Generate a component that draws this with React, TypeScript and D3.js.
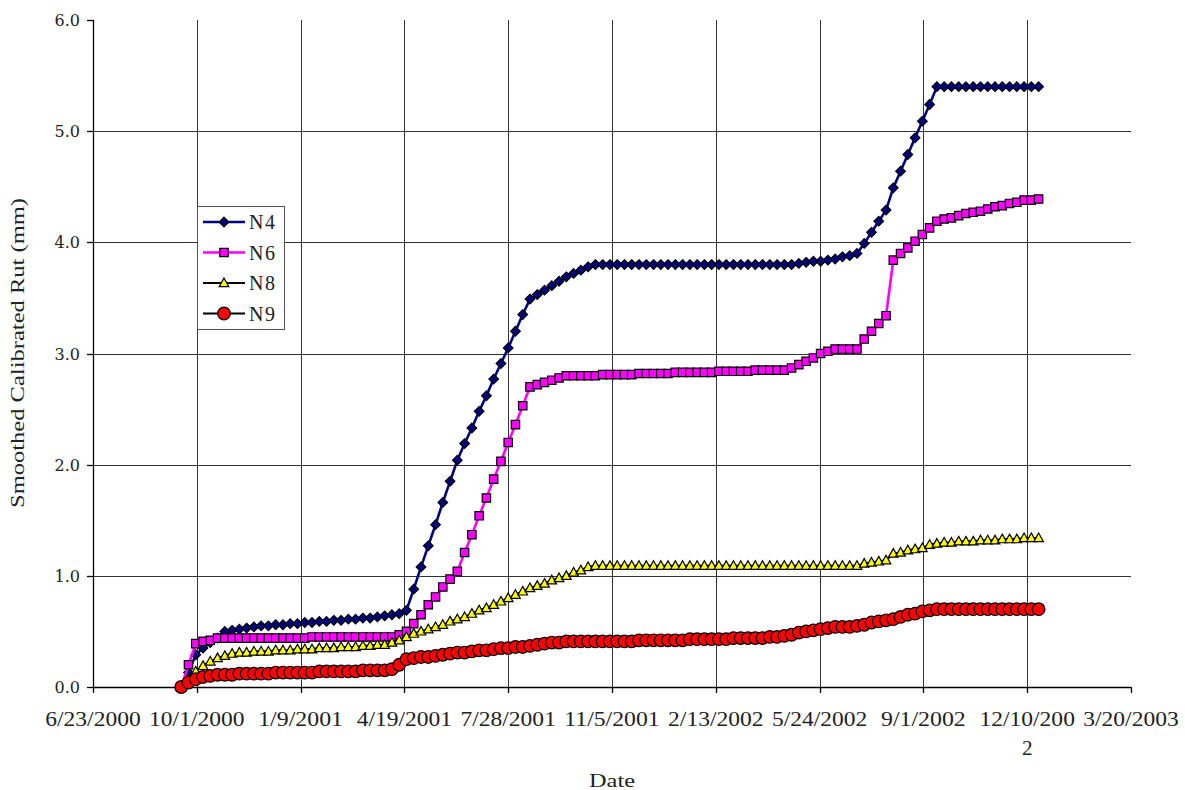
import { useEffect, useRef } from 'react';
import * as d3 from 'd3';

// weekly readings, first one on this date
const firstReading = '9/16/2000';
const readingStepDays = 7;

const xTickLabels = [
  '6/23/2000', '10/1/2000', '1/9/2001', '4/19/2001', '7/28/2001', '11/5/2001',
  '2/13/2002', '5/24/2002', '9/1/2002', '12/10/2002', '3/20/2003',
];
const yTicks = [0, 1, 2, 3, 4, 5, 6];

const n4 = [
  0.0, 0.13, 0.29, 0.35, 0.4, 0.44, 0.5, 0.51, 0.52, 0.53,
  0.54, 0.55, 0.55, 0.56, 0.56, 0.57, 0.57, 0.58, 0.58, 0.59,
  0.59, 0.6, 0.6, 0.61, 0.61, 0.62, 0.62, 0.63, 0.64, 0.65,
  0.66, 0.69, 0.88, 1.08, 1.27, 1.46, 1.66, 1.85, 2.04, 2.19,
  2.33, 2.48, 2.62, 2.77, 2.91, 3.05, 3.2, 3.35, 3.49, 3.53,
  3.57, 3.61, 3.65, 3.69, 3.72, 3.75, 3.78, 3.8, 3.8, 3.8,
  3.8, 3.8, 3.8, 3.8, 3.8, 3.8, 3.8, 3.8, 3.8, 3.8,
  3.8, 3.8, 3.8, 3.8, 3.8, 3.8, 3.8, 3.8, 3.8, 3.8,
  3.8, 3.8, 3.8, 3.8, 3.8, 3.81, 3.82, 3.83, 3.83, 3.84,
  3.85, 3.87, 3.88, 3.9, 3.99, 4.09, 4.19, 4.29, 4.49, 4.64,
  4.79, 4.94, 5.09, 5.24, 5.4, 5.4, 5.4, 5.4, 5.4, 5.4,
  5.4, 5.4, 5.4, 5.4, 5.4, 5.4, 5.4, 5.4, 5.4,
];

const n6 = [
  0.0, 0.2, 0.39, 0.41, 0.42, 0.44, 0.44, 0.44, 0.44, 0.44,
  0.44, 0.44, 0.44, 0.44, 0.44, 0.44, 0.44, 0.44, 0.45, 0.45,
  0.45, 0.45, 0.45, 0.45, 0.45, 0.45, 0.45, 0.45, 0.45, 0.45,
  0.47, 0.5, 0.57, 0.65, 0.74, 0.81, 0.9, 0.97, 1.04, 1.21,
  1.37, 1.54, 1.7, 1.87, 2.03, 2.2, 2.36, 2.53, 2.7, 2.72,
  2.74, 2.76, 2.78, 2.8, 2.8, 2.8, 2.8, 2.8, 2.81, 2.81,
  2.81, 2.81, 2.81, 2.82, 2.82, 2.82, 2.82, 2.82, 2.83, 2.83,
  2.83, 2.83, 2.83, 2.83, 2.84, 2.84, 2.84, 2.84, 2.84, 2.85,
  2.85, 2.85, 2.85, 2.85, 2.87, 2.9, 2.93, 2.96, 3.0, 3.02,
  3.04, 3.04, 3.04, 3.04, 3.13, 3.2, 3.27, 3.34, 3.84, 3.9,
  3.95, 4.01, 4.07, 4.13, 4.19, 4.21, 4.22, 4.24, 4.26, 4.27,
  4.28, 4.3, 4.32, 4.33, 4.35, 4.36, 4.38, 4.38, 4.39,
];

const n8 = [
  0.0, 0.07, 0.14, 0.19, 0.23, 0.26, 0.28, 0.3, 0.31, 0.31,
  0.32, 0.32, 0.32, 0.33, 0.33, 0.33, 0.34, 0.34, 0.34, 0.35,
  0.35, 0.35, 0.36, 0.36, 0.36, 0.37, 0.37, 0.38, 0.38, 0.4,
  0.42, 0.45, 0.48, 0.5, 0.52, 0.54, 0.56, 0.59, 0.61, 0.63,
  0.66, 0.69, 0.71, 0.74, 0.77, 0.8, 0.83, 0.86, 0.89, 0.91,
  0.93, 0.96, 0.98, 1.0, 1.03, 1.05, 1.08, 1.09, 1.09, 1.09,
  1.09, 1.09, 1.09, 1.09, 1.09, 1.09, 1.09, 1.09, 1.09, 1.09,
  1.09, 1.09, 1.09, 1.09, 1.09, 1.09, 1.09, 1.09, 1.09, 1.09,
  1.09, 1.09, 1.09, 1.09, 1.09, 1.09, 1.09, 1.09, 1.09, 1.09,
  1.09, 1.09, 1.09, 1.09, 1.11, 1.12, 1.13, 1.14, 1.2, 1.21,
  1.23, 1.24, 1.25, 1.28, 1.29, 1.3, 1.3, 1.31, 1.31, 1.31,
  1.32, 1.32, 1.32, 1.33, 1.33, 1.33, 1.34, 1.34, 1.34,
];

const n9 = [
  0.0, 0.04, 0.07, 0.09, 0.1, 0.11, 0.11, 0.11, 0.12, 0.12,
  0.12, 0.12, 0.12, 0.13, 0.13, 0.13, 0.13, 0.13, 0.13, 0.14,
  0.14, 0.14, 0.14, 0.14, 0.14, 0.15, 0.15, 0.15, 0.15, 0.16,
  0.2, 0.25, 0.26, 0.27, 0.27, 0.28, 0.29, 0.3, 0.31, 0.31,
  0.32, 0.33, 0.33, 0.34, 0.35, 0.35, 0.36, 0.36, 0.37, 0.38,
  0.39, 0.4, 0.4, 0.41, 0.41, 0.41, 0.41, 0.41, 0.41, 0.41,
  0.41, 0.41, 0.41, 0.42, 0.42, 0.42, 0.42, 0.42, 0.42, 0.42,
  0.43, 0.43, 0.43, 0.43, 0.43, 0.43, 0.44, 0.44, 0.44, 0.44,
  0.44, 0.45, 0.45, 0.46, 0.47, 0.49, 0.5, 0.51, 0.52, 0.53,
  0.54, 0.54, 0.54, 0.55, 0.56, 0.58, 0.59, 0.6, 0.61, 0.63,
  0.65, 0.66, 0.68, 0.69, 0.7, 0.7, 0.7, 0.7, 0.7, 0.7,
  0.7, 0.7, 0.7, 0.7, 0.7, 0.7, 0.7, 0.7, 0.7,
];

type MarkerKind = 'diamond' | 'square' | 'triangle' | 'circle';

const markerPath = (kind: MarkerKind) => {
  if (kind === 'diamond') return 'M0,-4.8L4.8,0L0,4.8L-4.8,0Z';
  if (kind === 'square') return 'M-4.2,-4.2H4.2V4.2H-4.2Z';
  if (kind === 'triangle') return 'M0,-5L4.8,3.6L-4.8,3.6Z';
  return d3.symbol(d3.symbolCircle, Math.PI * 6.3 * 6.3)()!;
};

export default function App() {
  const svgRef = useRef<SVGSVGElement>(null);

  useEffect(() => {
    if (!svgRef.current) return;
    document.body.style.margin = '0';
    const svg = d3.select(svgRef.current);
    svg.selectAll('*').remove();

    const parse = d3.timeParse('%m/%d/%Y');
    const tickDates = xTickLabels.map((t) => parse(t)!);
    const start = parse(firstReading)!;
    const dates = n4.map((_, i) => d3.timeDay.offset(start, i * readingStepDays));

    const left = 93;
    const right = 1131;
    const top = 20;
    const bottom = 687;

    const x = d3.scaleTime().domain([tickDates[0], tickDates[tickDates.length - 1]]).range([left, right]);
    const y = d3.scaleLinear().domain([0, 6]).range([bottom, top]);

    svg.append('rect').attr('width', 1185).attr('height', 790).attr('fill', '#fff');

    // gridlines
    const grid = svg.append('g').attr('stroke', '#333').attr('stroke-width', 1);
    tickDates.slice(1, -1).forEach((d) => {
      const px = Math.round(x(d)) + 0.5;
      grid.append('line').attr('x1', px).attr('x2', px).attr('y1', top).attr('y2', bottom);
    });
    yTicks.slice(1, -1).forEach((v) => {
      const py = Math.round(y(v)) + 0.5;
      grid.append('line').attr('x1', left).attr('x2', right).attr('y1', py).attr('y2', py);
    });

    // axes
    const axes = svg.append('g').attr('stroke', '#000').attr('stroke-width', 1.3);
    axes.append('line').attr('x1', left + 0.5).attr('x2', left + 0.5).attr('y1', top).attr('y2', bottom);
    axes.append('line').attr('x1', left).attr('x2', right).attr('y1', bottom + 0.5).attr('y2', bottom + 0.5);
    yTicks.forEach((v) => {
      const py = Math.round(y(v)) + 0.5;
      axes.append('line').attr('x1', left - 6).attr('x2', left).attr('y1', py).attr('y2', py);
    });
    tickDates.forEach((d) => {
      const px = Math.round(x(d)) + 0.5;
      axes.append('line').attr('x1', px).attr('x2', px).attr('y1', bottom).attr('y2', bottom + 6);
    });

    // y tick labels
    svg
      .append('g')
      .selectAll('text')
      .data(yTicks)
      .join('text')
      .attr('x', 80)
      .attr('y', (v) => y(v) + 6)
      .attr('text-anchor', 'end')
      .attr('font-family', 'DejaVu Serif')
      .attr('font-size', 16)
      .attr('fill', '#222')
      .text((v) => d3.format('.1f')(v));

    // x tick labels (the long one wraps in the original)
    const xl = svg.append('g').attr('font-family', 'Liberation Serif').attr('font-size', 20).attr('fill', '#222');
    xTickLabels.forEach((label, i) => {
      const px = x(tickDates[i]);
      const lines = label.length > 9 ? [label.slice(0, 9), label.slice(9)] : [label];
      lines.forEach((ln, j) => {
        xl.append('text')
          .attr('x', px)
          .attr('y', 726 + j * 29)
          .attr('text-anchor', 'middle')
          .attr('textLength', ln.length * 10.6)
          .attr('lengthAdjust', 'spacingAndGlyphs')
          .text(ln);
      });
    });

    // axis titles
    svg
      .append('text')
      .attr('x', 612)
      .attr('y', 787)
      .attr('text-anchor', 'middle')
      .attr('font-family', 'Liberation Serif')
      .attr('font-size', 19)
      .attr('fill', '#222')
      .attr('textLength', 46)
      .attr('lengthAdjust', 'spacingAndGlyphs')
      .text('Date');

    svg
      .append('text')
      .attr('transform', 'translate(24,353) rotate(-90)')
      .attr('text-anchor', 'middle')
      .attr('font-family', 'Liberation Serif')
      .attr('font-size', 19)
      .attr('fill', '#222')
      .attr('textLength', 310)
      .attr('lengthAdjust', 'spacingAndGlyphs')
      .text('Smoothed Calibrated Rut (mm)');

    const series = [
      { name: 'N4', values: n4, line: '#000080', width: 2.6, fill: '#000080', marker: 'diamond' as MarkerKind },
      { name: 'N6', values: n6, line: '#FF00FF', width: 2.6, fill: '#FF00FF', marker: 'square' as MarkerKind },
      { name: 'N8', values: n8, line: '#000000', width: 2.2, fill: '#FFFF00', marker: 'triangle' as MarkerKind },
      { name: 'N9', values: n9, line: '#000000', width: 2.2, fill: '#FF0000', marker: 'circle' as MarkerKind },
    ];

    const lineGen = d3
      .line<number>()
      .x((_, i) => x(dates[i]))
      .y((v) => y(v));

    series.forEach((s) => {
      const g = svg.append('g');
      g.append('path')
        .attr('d', lineGen(s.values))
        .attr('fill', 'none')
        .attr('stroke', s.line)
        .attr('stroke-width', s.width)
        .attr('stroke-linejoin', 'round');
      g.selectAll('path.m')
        .data(s.values)
        .join('path')
        .attr('class', 'm')
        .attr('d', markerPath(s.marker))
        .attr('transform', (v, i) => `translate(${x(dates[i])},${y(v)})`)
        .attr('fill', s.fill)
        .attr('stroke', '#000')
        .attr('stroke-width', 1.2);
    });

    // legend
    const lg = svg.append('g');
    lg.append('rect')
      .attr('x', 197.5)
      .attr('y', 206.5)
      .attr('width', 87)
      .attr('height', 123)
      .attr('fill', '#fff')
      .attr('stroke', '#555');
    series.forEach((s, i) => {
      const cy = 222 + i * 30.5;
      lg.append('line')
        .attr('x1', 203)
        .attr('x2', 245)
        .attr('y1', cy)
        .attr('y2', cy)
        .attr('stroke', s.line)
        .attr('stroke-width', s.width);
      lg.append('path')
        .attr('d', markerPath(s.marker))
        .attr('transform', `translate(224,${cy})`)
        .attr('fill', s.fill)
        .attr('stroke', '#000')
        .attr('stroke-width', 1.2);
      lg.append('text')
        .attr('x', 249)
        .attr('y', cy + 7)
        .attr('font-family', 'Liberation Serif')
        .attr('font-size', 20)
        .attr('fill', '#222')
        .attr('textLength', 26)
        .attr('lengthAdjust', 'spacing')
        .text(s.name);
    });
  }, []);

  return <svg ref={svgRef} width={1185} height={790} style={{ display: 'block' }} />;
}
